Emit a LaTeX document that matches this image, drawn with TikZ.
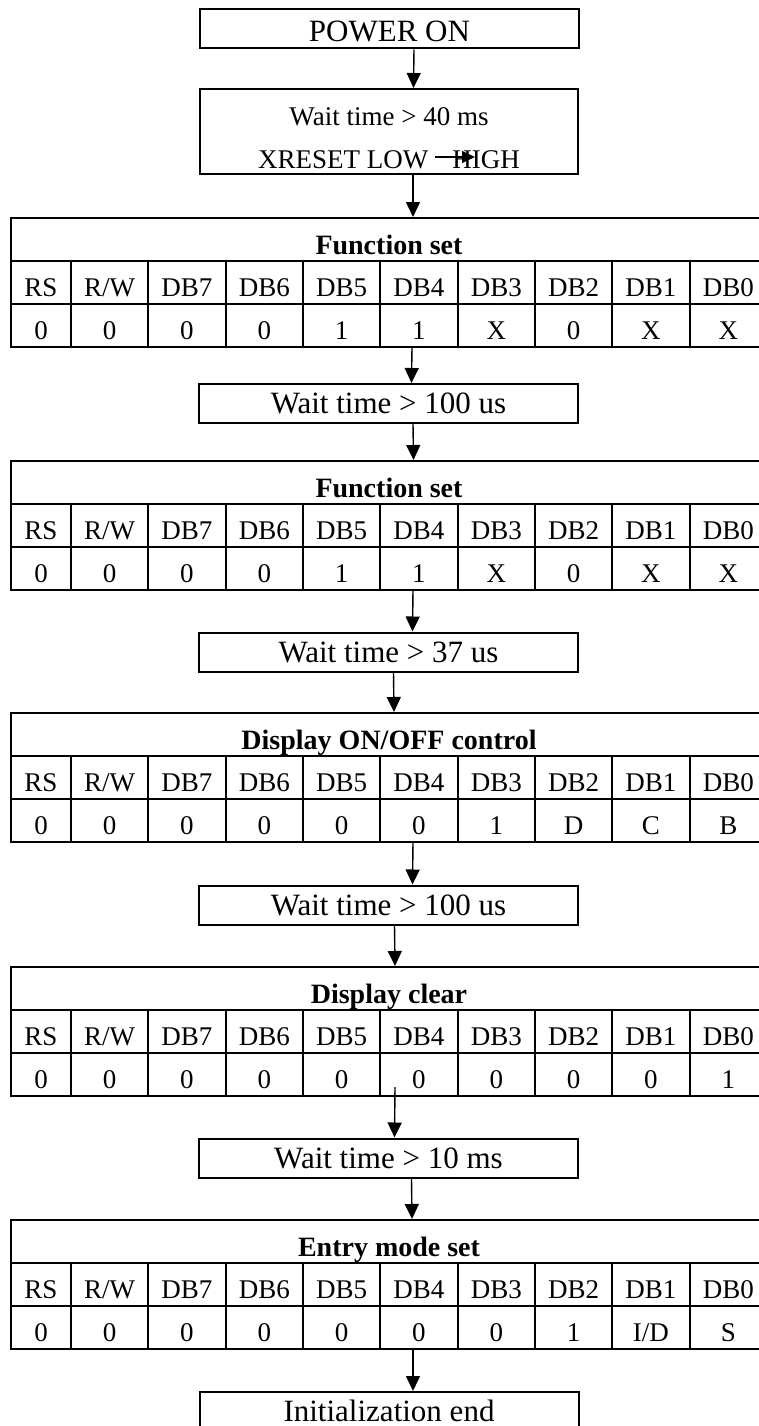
\documentclass[tikz,border=0pt]{standalone}
\usepackage{fontspec}
\setmainfont{Liberation Serif}
\usetikzlibrary{arrows.meta}

\newcommand{\tabfont}{\fontsize{27}{32}\selectfont}
\newcommand{\headfont}{\fontsize{28}{33}\selectfont\bfseries}
\newcommand{\waitfont}{\fontsize{31}{37}\selectfont}
\newcommand{\resetfont}{\fontsize{27}{32}\selectfont}

% register table: name, top edge, title, values RS..DB0
\newcommand{\regtable}[4]{%
  \node[titlerow] (#1) at (389,#2+21.5) {#3};
  \foreach \h [count=\i] in {RS,R/W,DB7,DB6,DB5,DB4,DB3,DB2,DB1,DB0} {
    \pgfmathsetmacro\cx{\i==1 ? 41 : 71+(\i-1.5)*77.33}
    \pgfmathsetmacro\cw{\i==1 ? 60 : 77.33}
    \node[cell,minimum width=\cw] (#1h\i) at (\cx,#2+64.5) {\h};
  }
  \foreach \v [count=\i] in {#4} {
    \pgfmathsetmacro\cx{\i==1 ? 41 : 71+(\i-1.5)*77.33}
    \pgfmathsetmacro\cw{\i==1 ? 60 : 77.33}
    \node[cell,minimum width=\cw] (#1v\i) at (\cx,#2+107.5) {\v};
  }
  \coordinate (#1b) at (389,#2+129);
}

\begin{document}
\begin{tikzpicture}[x=1pt,y=-1pt,>={Triangle[length=15pt,width=14pt]}]
\tikzstyle{waitbox}=[draw=black,line width=2pt,inner sep=0,minimum width=379,minimum height=39,text height=20.5pt,text depth=0pt,font=\waitfont]
\tikzstyle{titlerow}=[draw=black,line width=2pt,inner sep=0,minimum width=756,minimum height=43,text height=29.5pt,text depth=0pt,font=\headfont]
\tikzstyle{cell}=[draw=black,line width=2pt,inner sep=0,minimum height=43,text height=28pt,text depth=0pt,font=\tabfont]
\tikzstyle{flow}=[->,line width=1.4pt]
\clip (0,0) rectangle (759,1426);

\node[waitbox,text height=26pt] (pw) at (389.5,29) {POWER ON};
\node[draw=black,line width=2pt,minimum width=378,minimum height=85,inner sep=0] (wt) at (389,131.5) {};
\node[anchor=base,font=\resetfont,inner sep=0] (wt1) at (389,125) {Wait time > 40 ms};
\node[anchor=base,font=\resetfont,inner sep=0] (xr) at (389,168) {XRESET LOW\hspace{24pt}HIGH};
\coordinate (lo) at ([shift={(46,-11)}]xr.base);
\coordinate (hi) at ([shift={(86,-11)}]xr.base);
\draw[->,line width=1.2pt,>={Triangle[length=13pt,width=12pt]}] (lo) -- (hi);

\regtable{t1}{218}{Function set}{0,0,0,0,1,1,X,0,X,X}
\node[waitbox] (w1) at (388.5,403.5) {Wait time > 100 us};
\regtable{t2}{461}{Function set}{0,0,0,0,1,1,X,0,X,X}
\node[waitbox] (w2) at (388.5,652) {Wait time > 37 us};
\regtable{t3}{713}{Display ON/OFF control}{0,0,0,0,0,0,1,D,C,B}
\node[waitbox] (w3) at (388.5,905) {Wait time > 100 us};
\regtable{t4}{967}{Display clear}{0,0,0,0,0,0,0,0,0,1}
\node[waitbox] (w4) at (388.5,1158) {Wait time > 10 ms};
\regtable{t5}{1220}{Entry mode set}{0,0,0,0,0,0,0,1,I/D,S}
\node[waitbox] (ie) at (389,1411.5) {Initialization end};

% flow arrows
\draw[flow] ([shift={(24.5,0)}]pw.south) -- ([shift={(24.5,0)}]wt.north);
\draw[flow] ([shift={(24,0)}]wt.south) -- ([shift={(24,0)}]t1.north);
\draw[flow] ([shift={(23,0)}]t1b) -- ([shift={(23,0)}]w1.north);
\draw[flow] ([shift={(24.5,0)}]w1.south) -- ([shift={(24.5,0)}]t2.north);
\draw[flow] ([shift={(24,0)}]t2b) -- ([shift={(24,0)}]w2.north);
\draw[flow] ([shift={(5,0)}]w2.south) -- ([shift={(5,0)}]t3.north);
\draw[flow] ([shift={(24,0)}]t3b) -- ([shift={(24,0)}]w3.north);
\draw[flow] ([shift={(6,0)}]w3.south) -- ([shift={(6,0)}]t4.north);
\draw[flow] ([shift={(6,-9)}]t4b) -- ([shift={(6,0)}]w4.north);
\draw[flow] ([shift={(23,0)}]w4.south) -- ([shift={(23,0)}]t5.north);
\draw[flow] ([shift={(24,0)}]t5b) -- ([shift={(24,0)}]ie.north);
\end{tikzpicture}
\end{document}
